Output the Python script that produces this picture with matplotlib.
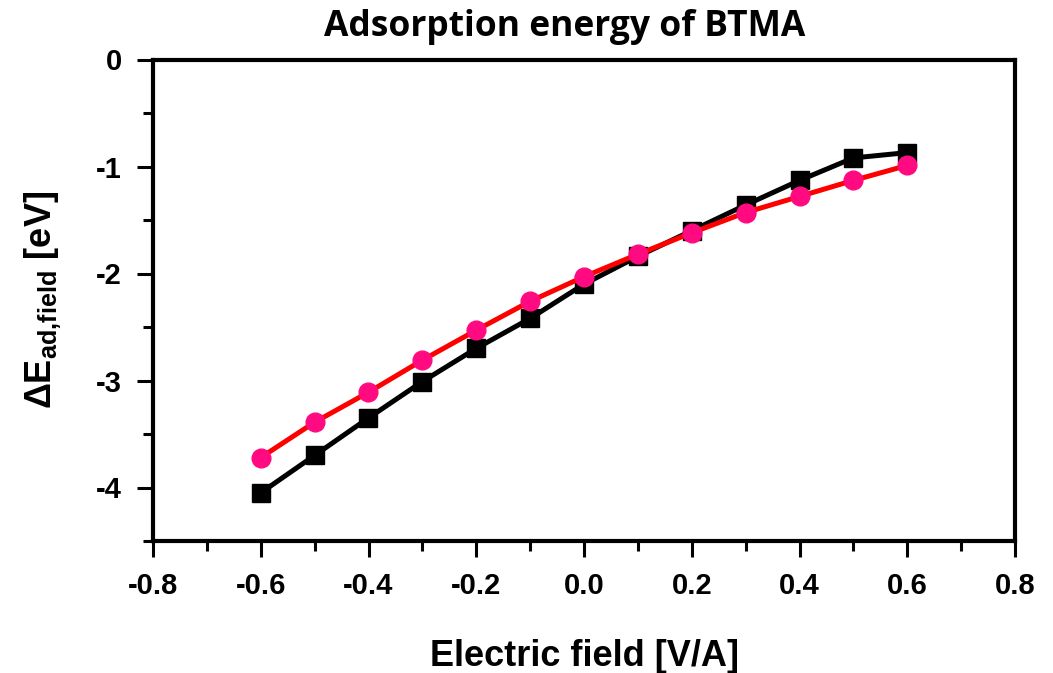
import numpy as np
import matplotlib
matplotlib.use('Agg')
import matplotlib.pyplot as plt
from matplotlib.ticker import MultipleLocator, FuncFormatter

# data
field = [-0.6, -0.5, -0.4, -0.3, -0.2, -0.1, 0.0, 0.1, 0.2, 0.3, 0.4, 0.5, 0.6]
e_black = [-4.05, -3.70, -3.35, -3.01, -2.70, -2.42, -2.10, -1.84, -1.60, -1.36, -1.13, -0.92, -0.87]
e_pink = [-3.72, -3.39, -3.11, -2.81, -2.53, -2.26, -2.03, -1.82, -1.62, -1.43, -1.28, -1.13, -0.99]

plt.rcParams['font.family'] = ['Liberation Sans', 'DejaVu Sans']
plt.rcParams['font.weight'] = 'bold'
plt.rcParams['mathtext.fontset'] = 'custom'
plt.rcParams['mathtext.rm'] = 'Liberation Sans:bold'
plt.rcParams['mathtext.bf'] = 'Liberation Sans:bold'

fig = plt.figure(figsize=(10.53, 6.73), dpi=100)
ax = fig.add_axes([153/1053, 1-541/673, (1015-153)/1053, (541-59.5)/673])

ax.plot(field, e_black, color='k', lw=3.6, marker='s', ms=12.5, mfc='k', mec='k', zorder=3)
ax.plot(field, e_pink, color='#ff0000', lw=3.6, marker='o', ms=13.5, mfc='#ff0a80', mec='#ff0a80', zorder=4)

ax.set_xlim(-0.8, 0.8)
ax.set_ylim(-4.5, 0)
ax.xaxis.set_major_locator(MultipleLocator(0.2))
ax.xaxis.set_minor_locator(MultipleLocator(0.1))
ax.yaxis.set_major_locator(MultipleLocator(1))
ax.yaxis.set_minor_locator(MultipleLocator(0.5))
ax.xaxis.set_major_formatter(FuncFormatter(lambda v, p: '%.1f' % (round(v, 1) + 0.0)))
ax.yaxis.set_major_formatter(FuncFormatter(lambda v, p: '%d' % round(v)))

ax.tick_params(which='major', direction='out', length=11.5, width=2.2, labelsize=21, pad=11)
ax.tick_params(axis='y', which='major', pad=11)
ax.tick_params(which='minor', direction='out', length=7, width=2.2)
ax.tick_params(top=False, right=False)
for s in ax.spines.values():
    s.set_linewidth(3)

ax.set_xlabel('Electric field [V/A]', fontsize=26, fontweight='bold', labelpad=28)
ax.set_ylabel(r'$\Delta$E$_{\mathrm{ad{,}field}}$ [eV]', fontsize=26, fontweight='bold', labelpad=24)

fig.text(565/1053, 1-27/673, 'Adsorption energy of BTMA', ha='center', va='center',
         fontsize=25.5, fontweight='bold', family=['Open Sans', 'DejaVu Sans'])

fig.savefig('out.png', dpi=100)
